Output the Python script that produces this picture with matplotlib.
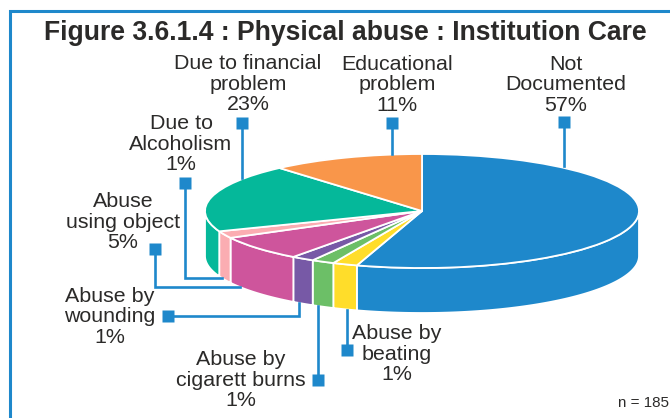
import numpy as np
import matplotlib
matplotlib.use("Agg")
import matplotlib.pyplot as plt

plt.rcParams['font.family'] = ['Liberation Sans', 'DejaVu Sans']

title = "Figure 3.6.1.4 : Physical abuse : Institution Care"
categories = ["Not\nDocumented", "Abuse by\nbeating", "Abuse by\ncigarett burns", "Abuse by\nwounding",
              "Abuse\nusing object", "Due to\nAlcoholism", "Due to financial\nproblem", "Educational\nproblem"]
labelled_pct = [57, 1, 1, 1, 5, 1, 23, 11]
# slice sizes as drawn in the picture (share of the circle, %)
drawn_share = [54.85, 1.85, 1.7, 1.7, 7.1, 2.0, 19.4, 11.4]
colors = ["#1E88CB", "#FFDD2A", "#6CBF67", "#7759A6", "#CE559C", "#FBADB2", "#05B89A", "#F9964A"]
note = "n = 185"

W, H = 670, 418
BLUE = "#1E88CB"
fig = plt.figure(figsize=(W/100, H/100), dpi=100, facecolor="white")

# overlay in pixel coordinates for frame, text, callouts
ov = fig.add_axes([0, 0, 1, 1], zorder=3)
ov.set_xlim(0, W); ov.set_ylim(H, 0); ov.axis("off"); ov.patch.set_alpha(0)

# pie: unit circle mapped on the ellipse
cx, cy, rx, ry, depth = 422, 211, 217, 57, 45
ax = fig.add_axes([(cx-rx)/W, 1-(cy+ry+depth)/H, 2*rx/W, (2*ry+depth)/H], zorder=2)
d = depth/ry

shares = np.array(drawn_share, float)
bounds = 360*np.concatenate([[0], np.cumsum(shares)])/shares.sum()
start = 90.0
for i, c in enumerate(colors):
    a0, a1 = start-bounds[i], start-bounds[i+1]
    t = np.radians(np.linspace(a0, a1, 200))
    vis = np.sin(t) <= 0.0
    if vis.sum() > 1:
        tv = t[vis]
        xs = np.cos(tv); ys = np.sin(tv)
        ax.fill(np.r_[xs, xs[::-1]], np.r_[ys, ys[::-1]-d], facecolor=c, edgecolor="white", lw=1.3, zorder=1)
wedges, _ = ax.pie(shares, colors=colors, startangle=90, counterclock=False, radius=1,
                   wedgeprops=dict(edgecolor="white", linewidth=1.3, zorder=2), frame=False)
ax.set_aspect("auto")
ax.set_xlim(-1, 1); ax.set_ylim(-1-d, 1)
ax.axis("off")

# frame: open on the right and bottom, as cropped in the reference
ov.plot([10, 10, W], [H, 11, 11], color=BLUE, lw=2.2, solid_joinstyle="miter")

tc = "#2B2A29"
ov.text(345, 33, title, ha="center", va="center", fontsize=19.1, fontweight="bold", color=tc)

fs = 15.4
pos = [(566, 85), (397, 354), (241, 380), (110, 317), (123, 222), (181, 144), (248, 84), (397, 85)]
for (x, y), cat, pct in zip(pos, categories, labelled_pct):
    ov.text(x, y, f"{cat}\n{pct}%", ha="center", va="center", fontsize=fs, color=tc, linespacing=1.13)
ov.text(669, 403, note, ha="right", va="center", fontsize=10.9, color=tc)

# callouts: polyline, starting at its square marker
call = [
    ([564, 564], [122, 166]),
    ([392, 392], [123, 154]),
    ([242, 242], [123, 178]),
    ([185, 185, 222], [183, 278, 278]),
    ([155, 155, 240], [249, 287, 287]),
    ([168, 299, 299], [316, 316, 303]),
    ([318, 318], [380, 306]),
    ([347, 347], [350, 310]),
]
for xs, ys in call:
    ov.plot(xs, ys, color=BLUE, lw=1.9, solid_joinstyle="miter")
    ov.plot(xs[0], ys[0], marker="s", ms=8, color=BLUE, mec="none")

fig.savefig("out.png", dpi=100)
